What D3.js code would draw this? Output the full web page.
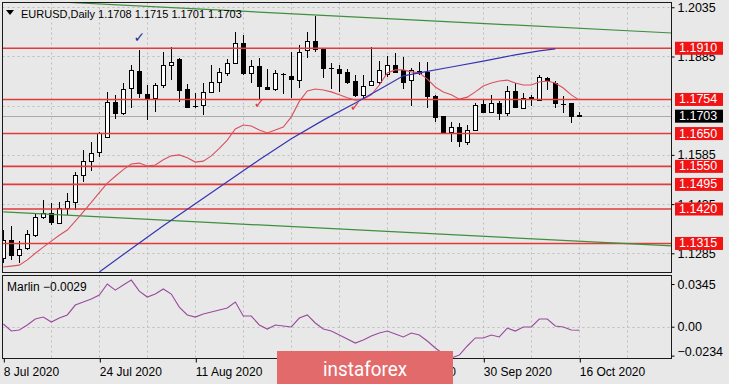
<!DOCTYPE html>
<html><head><meta charset="utf-8">
<script src="https://cdn.jsdelivr.net/npm/d3@7"></script>
<style>body{margin:0;background:#e8e8e8;}svg{display:block;}</style>
</head><body>
<svg id="c" width="729" height="384"></svg>
<script>
// ---------- DATA ----------
const symbolTitle = "EURUSD,Daily";
const opens  = [1.1271,1.1326,1.1280,1.1301,1.1341,1.1396,1.1408,1.1377,1.1423,1.1441,1.1524,1.1566,1.1594,1.1640,1.1746,1.1713,1.1789,1.1841,1.1771,1.1759,1.1798,1.1859,1.1877,1.1786,1.1734,1.1737,1.1777,1.1807,1.1835,1.1865,1.1926,1.1835,1.1856,1.1792,1.1786,1.1831,1.1826,1.1813,1.1905,1.1932,1.1908,1.1851,1.1847,1.1838,1.1810,1.1768,1.1798,1.1807,1.1832,1.1859,1.1844,1.1813,1.1841,1.1838,1.1765,1.1704,1.1655,1.1670,1.1624,1.1661,1.1740,1.1716,1.1743,1.1713,1.1780,1.1728,1.1760,1.1752,1.1820,1.1804,1.1741,1.1743,1.1708];
const highs  = [1.1356,1.1368,1.1323,1.1356,1.1408,1.1448,1.1438,1.1441,1.1469,1.1533,1.1600,1.1624,1.1655,1.1777,1.1768,1.1804,1.1859,1.1905,1.1798,1.1804,1.1899,1.1914,1.1880,1.1801,1.1774,1.1804,1.1859,1.1850,1.1877,1.1960,1.1951,1.1874,1.1880,1.1847,1.1844,1.1835,1.1899,1.1920,1.1960,1.2009,1.1908,1.1865,1.1859,1.1847,1.1829,1.1829,1.1914,1.1871,1.1887,1.1896,1.1884,1.1850,1.1868,1.1868,1.1768,1.1704,1.1685,1.1682,1.1676,1.1743,1.1752,1.1768,1.1749,1.1795,1.1804,1.1774,1.1768,1.1829,1.1823,1.1810,1.1765,1.1743,1.1715];
const lows   = [1.1256,1.1265,1.1256,1.1295,1.1335,1.1390,1.1371,1.1377,1.1402,1.1417,1.1502,1.1536,1.1579,1.1640,1.1695,1.1707,1.1728,1.1759,1.1691,1.1716,1.1789,1.1813,1.1746,1.1731,1.1728,1.1707,1.1774,1.1777,1.1826,1.1865,1.1829,1.1804,1.1752,1.1786,1.1780,1.1771,1.1759,1.1789,1.1881,1.1899,1.1820,1.1786,1.1777,1.1801,1.1762,1.1756,1.1795,1.1798,1.1823,1.1835,1.1786,1.1734,1.1829,1.1728,1.1685,1.1652,1.1624,1.1609,1.1615,1.1658,1.1713,1.1716,1.1691,1.1704,1.1728,1.1725,1.1734,1.1749,1.1783,1.1728,1.1713,1.1682,1.1701];
const closes = [1.1326,1.1280,1.1298,1.1344,1.1396,1.1408,1.1380,1.1423,1.1445,1.1524,1.1566,1.1591,1.1652,1.1746,1.1713,1.1786,1.1844,1.1774,1.1759,1.1798,1.1859,1.1868,1.1783,1.1731,1.1733,1.1777,1.1807,1.1838,1.1865,1.1926,1.1835,1.1856,1.1795,1.1786,1.1835,1.1832,1.1816,1.1899,1.1932,1.1908,1.1850,1.1850,1.1835,1.1807,1.1768,1.1795,1.1810,1.1844,1.1859,1.1838,1.1807,1.1844,1.1835,1.1765,1.1701,1.1655,1.1670,1.1627,1.1661,1.1737,1.1716,1.1743,1.1713,1.1780,1.1731,1.1759,1.1759,1.1823,1.1813,1.1743,1.1740,1.1704,1.1703];

// short moving average (red)
const maFast = [1.1243,1.1246,1.1249,1.1265,1.1285,1.1304,1.1322,1.1340,1.1356,1.1383,1.1411,1.1440,1.1470,1.1499,1.1520,1.1540,1.1557,1.1560,1.1551,1.1554,1.1570,1.1582,1.1585,1.1576,1.1563,1.1566,1.1582,1.1605,1.1630,1.1664,1.1676,1.1673,1.1661,1.1652,1.1661,1.1670,1.1701,1.1748,1.1780,1.1786,1.1783,1.1777,1.1768,1.1759,1.1752,1.1755,1.1768,1.1798,1.1835,1.1844,1.1844,1.1838,1.1835,1.1816,1.1792,1.1777,1.1768,1.1755,1.1761,1.1777,1.1795,1.1804,1.1810,1.1813,1.1804,1.1798,1.1798,1.1807,1.1810,1.1804,1.1789,1.1768,1.1752];
// long moving average (blue): bar index / value
const maSlowIdx = [12,16,20,24,28,32,36,40,44,48,50,52,56,60,64,67,69];
const maSlowVal = [1.1228,1.1299,1.1369,1.1436,1.1503,1.1570,1.1634,1.1691,1.1743,1.1798,1.1826,1.1835,1.1853,1.1871,1.1890,1.1902,1.1908];

// oscillator "Marlin"
const marlin = [0.0022,-0.0035,-0.0027,0.0014,0.0062,0.0078,0.0038,0.0070,0.0095,0.0175,0.0200,0.0224,0.0256,0.0345,0.0296,0.0337,0.0377,0.0288,0.0240,0.0264,0.0305,0.0264,0.0159,0.0095,0.0078,0.0103,0.0119,0.0135,0.0151,0.0200,0.0086,0.0086,0.0014,-0.0019,0.0014,0.0006,-0.0002,0.0070,0.0095,0.0030,-0.0019,-0.0035,-0.0067,-0.0099,-0.0132,-0.0107,-0.0075,-0.0051,-0.0035,-0.0059,-0.0083,-0.0051,-0.0067,-0.0116,-0.0172,-0.0221,-0.0253,-0.0229,-0.0156,-0.0091,-0.0091,-0.0067,-0.0083,-0.0011,-0.0035,-0.0002,-0.0002,0.0062,0.0062,0.0006,-0.0002,-0.0027,-0.0029];

// horizontal levels (red)
const levels = [1.1910,1.1754,1.1650,1.1550,1.1495,1.1420,1.1315];
const currentPrice = 1.1703;
// green channel trend lines: [bar index, price] endpoints
const greenUpperIdx = [0,84], greenUpperVal = [1.2060,1.1956];
const greenLowerIdx = [0,84], greenLowerVal = [1.1411,1.1307];

// price axis ticks (grid) and the tick labels visible in the picture
const priceTicks = [1.2035,1.1885,1.1735,1.1585,1.1435,1.1285];
const priceTickLabels = [1.2035,1.1885,1.1585,1.1435,1.1285];
const marlinTicks = [0.0345,0,-0.0234];
// date axis
const dateIdx = [0,12,24,48,60,72];
const dateLabels = ["8 Jul 2020","24 Jul 2020","11 Aug 2020","14 Sep 2020","30 Sep 2020","16 Oct 2020"];
// check-mark annotations
const markIdx = [17,32,44], markVal = [1.1945,1.1743,1.1734], markCol = ["#2b2f9e","#e23a3a","#e23a3a"];

// ---------- DRAW ----------
const svg = d3.select("#c");
const FONT = "'Liberation Sans', Arial, sans-serif";
const L = 2.5, R = 671.5, T1 = 2.5, B1 = 272.5, T2 = 275.5, B2 = 358.5;

const x = d3.scaleLinear().domain([0, 83.5]).range([3.3, 671.3]);
const y = d3.scaleLinear().domain([1.1228, 1.2048]).range([272, 3]);
const ym = d3.scaleLinear().domain([-0.0245, 0.041]).range([357, 276]);

svg.append("rect").attr("width",729).attr("height",384).attr("fill","#e8e8e8");

const defs = svg.append("defs");
defs.append("clipPath").attr("id","cp1").append("rect").attr("x",L).attr("y",T1).attr("width",R-L).attr("height",B1-T1);
defs.append("clipPath").attr("id","cp2").append("rect").attr("x",L).attr("y",T2).attr("width",R-L).attr("height",B2-T2);

const g1 = svg.append("g").attr("clip-path","url(#cp1)");
const g2 = svg.append("g").attr("clip-path","url(#cp2)");

// grid
const gridIdx = d3.range(6, 84, 6);
[g1,g2].forEach((g,k)=>{
  g.selectAll("line.vg").data(gridIdx).enter().append("line")
    .attr("x1",d=>Math.round(x(d))+0.5).attr("x2",d=>Math.round(x(d))+0.5)
    .attr("y1",k?T2:T1).attr("y2",k?B2:B1)
    .attr("stroke","#bdbdbd").attr("stroke-dasharray","2,3");
});
g1.selectAll("line.hg").data(priceTicks).enter().append("line")
  .attr("x1",L).attr("x2",R).attr("y1",d=>Math.round(y(d))+0.5).attr("y2",d=>Math.round(y(d))+0.5)
  .attr("stroke","#bdbdbd").attr("stroke-dasharray","2,3");
g2.append("line").attr("x1",L).attr("x2",R).attr("y1",Math.round(ym(0))+0.5).attr("y2",Math.round(ym(0))+0.5)
  .attr("stroke","#bdbdbd").attr("stroke-dasharray","2,3");

// current price line
g1.append("line").attr("x1",L).attr("x2",R)
  .attr("y1",Math.round(y(currentPrice))+0.5).attr("y2",Math.round(y(currentPrice))+0.5)
  .attr("stroke","#aaaaaa").attr("stroke-width",1);

// candles
const idx = d3.range(opens.length);
const cg = g1.append("g");
idx.forEach(i=>{
  const c = Math.round(x(i));
  cg.append("line").attr("x1",c+0.5).attr("x2",c+0.5)
    .attr("y1",Math.round(y(highs[i]))).attr("y2",Math.round(y(lows[i])))
    .attr("stroke","#000").attr("stroke-width",1);
  const top = Math.round(y(Math.max(opens[i],closes[i])));
  const bot = Math.round(y(Math.min(opens[i],closes[i])));
  const up = closes[i] >= opens[i];
  if (bot - top >= 1) {
    cg.append("rect").attr("x",c-1.5).attr("y",top+0.5).attr("width",4).attr("height",bot-top)
      .attr("fill", up ? "#ffffff" : "#000000").attr("stroke","#000").attr("stroke-width",1);
  } else {
    cg.append("line").attr("x1",c-2).attr("x2",c+3).attr("y1",top+0.5).attr("y2",top+0.5)
      .attr("stroke","#000").attr("stroke-width",1);
  }
});

// levels
g1.selectAll("line.lv").data(levels).enter().append("line")
  .attr("x1",L).attr("x2",R).attr("y1",d=>y(d)).attr("y2",d=>y(d))
  .attr("stroke","#e23b3b").attr("stroke-width",1.6);

// green channel
const line2 = d3.line().x(d=>x(d[0])).y(d=>y(d[1]));
[[greenUpperIdx,greenUpperVal],[greenLowerIdx,greenLowerVal]].forEach(([a,b])=>{
  g1.append("path").attr("d", line2(a.map((v,k)=>[v,b[k]])))
    .attr("fill","none").attr("stroke","#3f8f3f").attr("stroke-width",1.2);
});

// MAs
g1.append("path").attr("d", d3.line().x((d,i)=>x(i)).y(d=>y(d))(maFast))
  .attr("fill","none").attr("stroke","#d9505e").attr("stroke-width",1.1);
g1.append("path").attr("d", line2(maSlowIdx.map((v,k)=>[v,maSlowVal[k]])))
  .attr("fill","none").attr("stroke","#3535b5").attr("stroke-width",1.2);

// check marks
markIdx.forEach((m,k)=>{
  g1.append("text").attr("x",x(m)).attr("y",y(markVal[k]))
    .attr("text-anchor","middle").attr("dominant-baseline","central")
    .attr("font-family","'DejaVu Sans', sans-serif").attr("font-size",14).attr("font-weight","bold")
    .attr("fill",markCol[k]).text("\u2713");
});

// marlin
g2.append("path").attr("d", d3.line().x((d,i)=>x(i)).y(d=>ym(d))(marlin))
  .attr("fill","none").attr("stroke","#9a4a9e").attr("stroke-width",1.1);

// frames
svg.append("rect").attr("x",L).attr("y",T1).attr("width",R-L).attr("height",B1-T1)
  .attr("fill","none").attr("stroke","#1a1a1a");
svg.append("rect").attr("x",L).attr("y",T2).attr("width",R-L).attr("height",B2-T2)
  .attr("fill","none").attr("stroke","#1a1a1a");

// header
svg.append("path").attr("d","M6,10 L14,10 L10,15 Z").attr("fill","#000");
svg.append("text").attr("x",21).attr("y",18).attr("font-family",FONT).attr("font-size",11)
  .attr("fill","#000").text(symbolTitle + "  " + [opens[72],highs[72],lows[72],closes[72]].map(d3.format(".4f")).join(" "));
svg.append("text").attr("x",7).attr("y",291).attr("font-family",FONT).attr("font-size",12)
  .attr("fill","#000").text("Marlin " + d3.format(".4f")(marlin[marlin.length-1]));

// price axis
const pa = svg.append("g").attr("transform",`translate(${R},0)`)
  .call(d3.axisRight(y).tickValues(priceTickLabels).tickSize(3).tickFormat(d3.format(".4f")));
pa.select(".domain").remove();
pa.selectAll("text").attr("x",6).attr("font-family",FONT).attr("font-size",12.5).attr("fill","#000");
pa.selectAll("line").attr("stroke","#000");

// level labels
const lab = svg.append("g");
levels.forEach(v=>{
  const yy = y(v);
  lab.append("rect").attr("x",675).attr("y",yy-6.5).attr("width",48).attr("height",13).attr("fill","#f01414");
  lab.append("text").attr("x",679).attr("y",yy).attr("dominant-baseline","central")
    .attr("font-family",FONT).attr("font-size",12.5).attr("fill","#fff").text(d3.format(".4f")(v));
});
lab.append("rect").attr("x",675).attr("y",y(currentPrice)-6.5).attr("width",48).attr("height",13).attr("fill","#000");
lab.append("text").attr("x",679).attr("y",y(currentPrice)).attr("dominant-baseline","central")
  .attr("font-family",FONT).attr("font-size",12.5).attr("fill","#fff").text(d3.format(".4f")(currentPrice));

// marlin axis
const ma = svg.append("g").attr("transform",`translate(${R},0)`)
  .call(d3.axisRight(ym).tickValues(marlinTicks).tickSize(3)
    .tickFormat(d=> d===0 ? "0.00" : d3.format(".4f")(d)));
ma.select(".domain").remove();
ma.selectAll("line").attr("stroke","#000");
ma.selectAll("text").attr("x",6).attr("font-family",FONT).attr("font-size",12.5).attr("fill","#000")
  .attr("y", d => d < -0.02 ? -4 : 0);

// date axis
const da = svg.append("g").attr("transform",`translate(0,${B2})`)
  .call(d3.axisBottom(x).tickValues(dateIdx).tickSize(4).tickFormat((d,k)=>dateLabels[k]));
da.select(".domain").remove();
da.selectAll("line").attr("stroke","#000").attr("transform","translate(0.5,0)");
da.selectAll("text").attr("text-anchor","start").attr("x",0).attr("y",9)
  .attr("font-family",FONT).attr("font-size",12).attr("fill","#000");

// watermark
svg.append("rect").attr("x",277).attr("y",351).attr("width",176).attr("height",33).attr("fill","#e36a6a");
svg.append("text").attr("x",365).attr("y",376).attr("text-anchor","middle")
  .attr("font-family","Roboto, sans-serif").attr("font-size",21)
  .attr("textLength",84).attr("lengthAdjust","spacingAndGlyphs")
  .attr("fill","#ffffff").text("instaforex");
</script>
</body></html>
